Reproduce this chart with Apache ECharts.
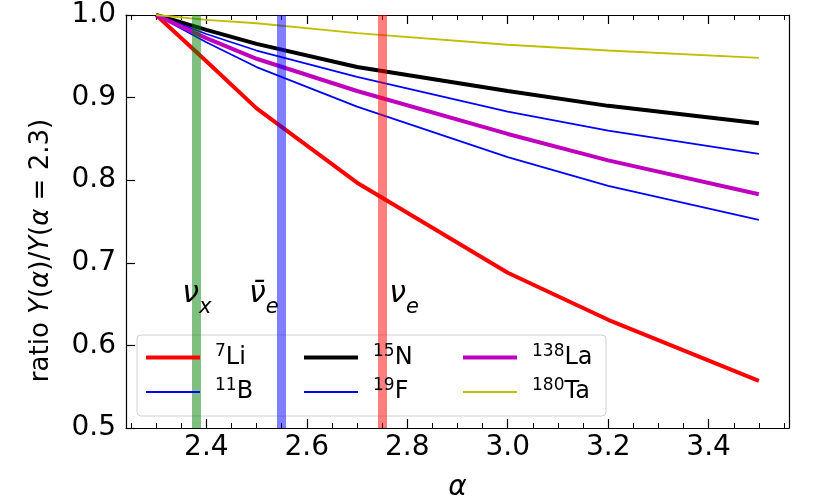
<!DOCTYPE html>
<html>
<head>
<meta charset="utf-8">
<script src="https://cdn.jsdelivr.net/npm/echarts@6/dist/echarts.min.js"></script>
<style>
html, body { margin: 0; padding: 0; background: #fff; }
#chart { width: 831px; height: 504px; }
</style>
</head>
<body>
<div id="chart"></div>
<script>
// spectral index alpha
var alpha = [2.3, 2.4, 2.5, 2.7, 3.0, 3.2, 3.5];
// yield ratio Y(alpha)/Y(alpha=2.3)
var li7   = [1.0, 0.944, 0.887, 0.797, 0.688, 0.631, 0.557];
var b11   = [1.0, 0.967, 0.937, 0.889, 0.828, 0.793, 0.752];
var n15   = [1.0, 0.982, 0.965, 0.937, 0.908, 0.890, 0.869];
var f19   = [1.0, 0.977, 0.957, 0.925, 0.883, 0.860, 0.832];
var la138 = [1.0, 0.972, 0.947, 0.908, 0.856, 0.824, 0.783];
var ta180 = [1.0, 0.994, 0.990, 0.978, 0.964, 0.957, 0.948];

// neutrino flavour alpha values
var bandAlpha = [2.375, 2.55, 2.755];
var bandLabelPos = [[2.352, 0.662], [2.485, 0.662], [2.764, 0.662]];

var xMajorTicks = [2.4, 2.6, 2.8, 3.0, 3.2, 3.4];
var xMinorTicks = [2.25, 2.3, 2.35, 2.45, 2.5, 2.55, 2.65, 2.7, 2.75, 2.85, 2.9, 2.95,
                   3.05, 3.1, 3.15, 3.25, 3.3, 3.35, 3.45, 3.5, 3.55];

// legend columns
var legendCols = [['7Li', '11B'], ['15N', '19F'], ['138La', '180Ta']];

var FONT = 'DejaVu Sans';

function pairs(ys){
	return alpha.map(function(a, i){ return [a, ys[i]]; });
}

function lineSeries(name, ys, color, width){
	return {
		name: name,
		type: 'line',
		data: pairs(ys),
		symbol: 'none',
		smooth: false,
		z: 2,
		lineStyle: { color: color, width: width },
		itemStyle: { color: color }
	};
}

var supRich = {
	s: { fontFamily: FONT, fontSize: 17, padding: [0, 0, 12, 0], color: '#000' },
	m: { fontFamily: FONT, fontSize: 24, lineHeight: 24, color: '#000' }
};

function supName(name){
	var m = name.match(/^(\d+)(.*)$/);
	return '{s|' + m[1] + '}{m|' + m[2] + '}';
}

var nuRich = {
	v: { fontFamily: FONT, fontStyle: 'italic', fontSize: 30, lineHeight: 30, verticalAlign: 'top', color: '#000' },
	b: { fontFamily: FONT, fontStyle: 'italic', fontSize: 21, lineHeight: 21, verticalAlign: 'top', padding: [18, 0, 0, 0], color: '#000' }
};

var bandColors = ['rgba(0,128,0,0.5)', 'rgba(0,0,255,0.5)', 'rgba(255,0,0,0.5)'];
var bandTexts = ['{v|\u03bd}{b|x}', '{v|\u03bd\u0304}{b|e}', '{v|\u03bd}{b|e}'];
var colLeft = [144, 302, 461];

var legends = legendCols.map(function(names, i){
	return {
		left: colLeft[i],
		top: 343,
		orient: 'vertical',
		padding: 0,
		z: 6,
		itemWidth: 54,
		itemHeight: 14,
		itemGap: 8,
		data: names,
		formatter: supName,
		itemStyle: { opacity: 0 },
		lineStyle: { width: 'inherit' },
		textStyle: {
			fontFamily: FONT,
			fontSize: 24,
			padding: [0, 0, 0, 10],
			rich: supRich
		}
	};
});

var option = {
	animation: false,
	backgroundColor: '#fff',
	textStyle: { fontFamily: FONT },
	grid: { left: 126, right: 42, top: 15, bottom: 76, outerBoundsMode: 'none' },
	graphic: [{
		type: 'rect',
		z: 5,
		silent: true,
		shape: { x: 137, y: 335, width: 469, height: 81, r: 4 },
		style: { fill: 'rgba(255,255,255,0.8)', stroke: '#d0d0d0', lineWidth: 1 }
	}],
	legend: legends,
	xAxis: [
		{
			type: 'value', min: 2.24, max: 3.56, position: 'bottom',
			name: '\u03b1', nameLocation: 'middle', nameGap: 46,
			nameTextStyle: { fontFamily: FONT, fontSize: 28, fontStyle: 'italic', color: '#000' },
			axisLine: { show: true, lineStyle: { color: '#000', width: 1.2 } },
			axisTick: { show: true, inside: true, length: 9, customValues: xMajorTicks, lineStyle: { color: '#000', width: 1.2 } },
			axisLabel: { show: true, customValues: xMajorTicks, fontSize: 28, color: '#000', margin: 6,
				formatter: function(v){ return v.toFixed(1); } },
			splitLine: { show: false }
		},
		{
			type: 'value', min: 2.24, max: 3.56, position: 'bottom',
			axisLine: { show: false },
			axisTick: { show: true, inside: true, length: 5, customValues: xMinorTicks, lineStyle: { color: '#000', width: 1 } },
			axisLabel: { show: false },
			splitLine: { show: false }
		},
		{
			type: 'value', min: 2.24, max: 3.56, position: 'top',
			axisLine: { show: true, lineStyle: { color: '#000', width: 1.2 } },
			axisTick: { show: true, inside: true, length: 9, customValues: xMajorTicks, lineStyle: { color: '#000', width: 1.2 } },
			axisLabel: { show: false },
			splitLine: { show: false }
		},
		{
			type: 'value', min: 2.24, max: 3.56, position: 'top',
			axisLine: { show: false },
			axisTick: { show: true, inside: true, length: 5, customValues: xMinorTicks, lineStyle: { color: '#000', width: 1 } },
			axisLabel: { show: false },
			splitLine: { show: false }
		}
	],
	yAxis: [
		{
			type: 'value', min: 0.5, max: 1.0, interval: 0.1, position: 'left',
			name: 'ratio {i|Y}({i|\u03b1})/{i|Y}({i|\u03b1} = 2.3)',
			nameLocation: 'middle', nameRotate: 90, nameGap: 72,
			nameTextStyle: { fontFamily: FONT, fontSize: 26, color: '#000', padding: [0, 58, 0, 0],
				rich: { i: { fontFamily: FONT, fontSize: 26, fontStyle: 'italic', color: '#000' } } },
			axisLine: { show: true, lineStyle: { color: '#000', width: 1.2 } },
			axisTick: { show: true, inside: true, length: 9, lineStyle: { color: '#000', width: 1.2 } },
			axisLabel: { fontSize: 28, color: '#000', margin: 10,
				formatter: function(v){ return v.toFixed(1); } },
			splitLine: { show: false }
		},
		{
			type: 'value', min: 0.5, max: 1.0, position: 'right',
			axisLine: { show: true, lineStyle: { color: '#000', width: 1.2 } },
			axisTick: { show: false },
			axisLabel: { show: false },
			splitLine: { show: false }
		}
	],
	series: [
		lineSeries('7Li', li7, '#ff0000', 4),
		lineSeries('11B', b11, '#0000ff', 1.8),
		lineSeries('15N', n15, '#000000', 4),
		lineSeries('19F', f19, '#0000ff', 1.8),
		lineSeries('138La', la138, '#bf00bf', 4),
		lineSeries('180Ta', ta180, '#bfbf00', 1.8),
		{
			name: 'bands',
			type: 'line',
			data: [],
			z: 3,
			markLine: {
				silent: true,
				symbol: ['none', 'none'],
				label: { show: false },
				data: bandAlpha.map(function(a, i){
					return { xAxis: a, lineStyle: { color: bandColors[i], width: 9, type: 'solid' } };
				})
			},
			markPoint: {
				silent: true,
				symbolSize: 0,
				data: bandLabelPos.map(function(p, i){
					return {
						coord: p,
						label: { show: true, position: 'right', distance: 0, formatter: bandTexts[i], rich: nuRich }
					};
				})
			}
		}
	]
};

echarts.init(document.getElementById('chart')).setOption(option);
</script>
</body>
</html>
